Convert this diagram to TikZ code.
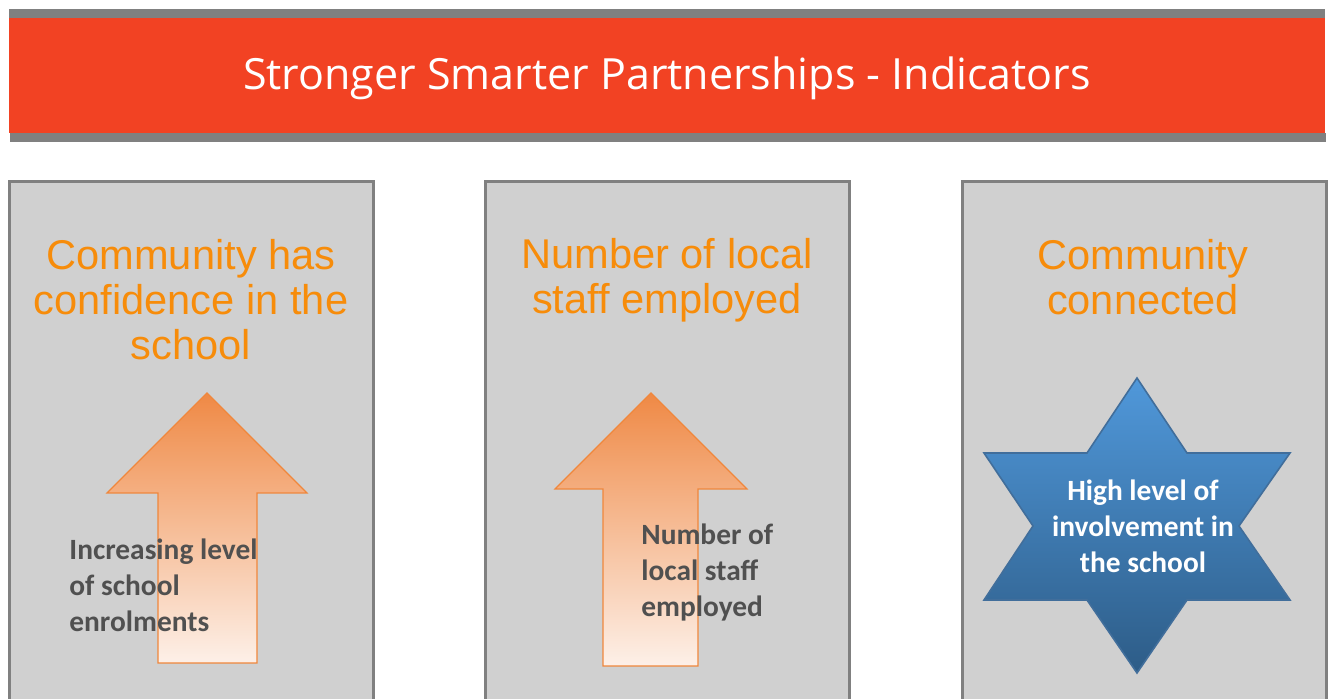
\documentclass[tikz,border=0pt]{standalone}
\usepackage{fontspec}
\setmainfont{Liberation Sans}
\newfontfamily\titlefont{Open Sans}
\newfontfamily\notefont{Carlito}

\definecolor{titlered}{RGB}{242,66,35}
\definecolor{framegray}{RGB}{128,128,128}
\definecolor{boxgray}{RGB}{208,208,208}
\definecolor{headorange}{RGB}{247,140,10}
\definecolor{arrowtop}{RGB}{239,137,69}
\definecolor{arrowbot}{RGB}{253,240,232}
\definecolor{arrowline}{RGB}{240,135,60}
\definecolor{startop}{RGB}{80,152,218}
\definecolor{starbot}{RGB}{45,92,135}
\definecolor{starline}{RGB}{65,110,155}
\definecolor{notegray}{RGB}{80,80,80}

\tikzset{
  heading/.style={align=center, text=headorange, inner sep=0pt, font=\fontsize{20.8}{22.5}\selectfont},
  note/.style={align=left, text=notegray, inner sep=0pt, font=\notefont\bfseries\fontsize{14.7}{18}\selectfont},
  panel/.style={draw=framegray, line width=1.5pt},
  uparrow/.style={top color=arrowtop, bottom color=arrowbot, draw=arrowline, line width=0.6pt},
}

\begin{document}
\begin{tikzpicture}[x=0.5pt, y=-0.5pt]
        \useasboundingbox (0,0) rectangle (1330,699);

        % title bar
        \fill [framegray] (9,9) rectangle (1325,18);
        \fill [titlered] (9,18) rectangle (1325,133);
        \fill [framegray] (10,133) rectangle (1326,142);
        \node [text=white, inner sep=0pt, font=\titlefont\fontsize{21.5}{26}\selectfont] (T) at (667,78) {Stronger Smarter Partnerships - Indicators};

        % panels
        \foreach \x in {9,485,962} {
            \fill [boxgray] (\x,182) rectangle (\x+364,699);
            \draw [panel] (\x,699) -- (\x,182) -- (\x+364,182) -- (\x+364,699);
        }

        \node [heading] (H1) at (191,300) {Community has\\confidence in the\\school};
        \node [heading] (H2) at (667,280) {Number of local\\staff employed};
        \node [heading] (H3) at (1143,277.5) {Community\\connected};

        % arrows
        \shade [uparrow] (207,393) -- (307,493) -- (257,493) -- (257,663) -- (158,663) -- (158,493) -- (107,493) -- cycle;
        \shade [uparrow] (651,393) -- (747,489) -- (698,489) -- (698,666) -- (603,666) -- (603,489) -- (555,489) -- cycle;

        % star
        \shade [top color=startop, bottom color=starbot, draw=starline, line width=0.8pt]
            (1137,378) -- (1187,453) -- (1290,453) -- (1239,526) -- (1290,600) -- (1187,600)
            -- (1137,673) -- (1087,600) -- (984,600) -- (1033,526) -- (984,453) -- (1087,453) -- cycle;

        \node [note, anchor=west] (N1) at (69,585) {Increasing level\\of school\\enrolments};
        \node [note, anchor=west] (N2) at (641,573) {Number of\\local staff\\employed};
        \node [note, align=center, text=white] (N3) at (1143,526) {High level of\\involvement in\\the school};
\end{tikzpicture}
\end{document}
